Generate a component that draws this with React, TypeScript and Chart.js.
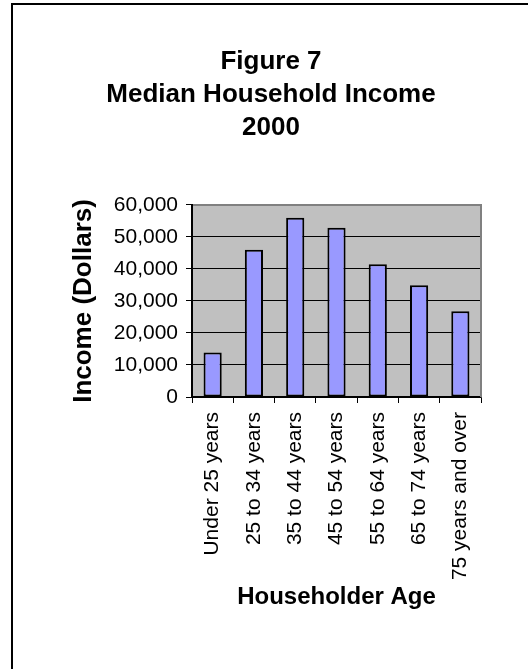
import React, { useEffect, useRef } from "react";
import { Chart, registerables } from "chart.js";

Chart.register(...registerables);

const titleLines = ["Figure 7", "Median Household Income", "2000"];
const categories = [
  "Under 25 years",
  "25 to 34 years",
  "35 to 44 years",
  "45 to 54 years",
  "55 to 64 years",
  "65 to 74 years",
  "75 years and over",
];
const incomes = [13900, 46000, 56000, 52900, 41500, 34900, 26800];
const yTicks = [0, 10000, 20000, 30000, 40000, 50000, 60000];
const yAxisTitle = "Income (Dollars)";
const xAxisTitle = "Householder Age";

const FONT = "'Liberation Sans', Arial, Helvetica, sans-serif";

const plotFrame = {
  id: "plotFrame",
  beforeDraw(chart: any) {
    const { ctx, chartArea, width, height } = chart;
    const { left, top, right, bottom } = chartArea;
    ctx.save();
    ctx.fillStyle = "#fff";
    ctx.fillRect(0, 0, width, height);
    // outer chart frame (only left and top edges are visible in the crop)
    ctx.strokeStyle = "#000";
    ctx.lineWidth = 2;
    ctx.beginPath();
    ctx.moveTo(12, height + 2);
    ctx.lineTo(12, 4);
    ctx.lineTo(width + 2, 4);
    ctx.stroke();
    // plot area background
    ctx.fillStyle = "#C0C0C0";
    ctx.fillRect(left, top, right - left, bottom - top);
    ctx.restore();
  },
  beforeDatasetsDraw(chart: any) {
    const { ctx, chartArea } = chart;
    const { left, top, right, bottom } = chartArea;
    ctx.save();
    ctx.strokeStyle = "#808080";
    ctx.lineWidth = 2;
    ctx.beginPath();
    ctx.moveTo(left + 1, top);
    ctx.lineTo(right, top);
    ctx.lineTo(right, bottom);
    ctx.stroke();
    ctx.restore();
  },
};

export default function App() {
  const canvasRef = useRef<HTMLCanvasElement | null>(null);

  useEffect(() => {
    const canvas = canvasRef.current;
    if (!canvas) return;
    const chart = new Chart(canvas, {
      type: "bar",
      data: {
        labels: categories,
        datasets: [
          {
            data: incomes,
            backgroundColor: "#9999FF",
            borderColor: "#000000",
            borderWidth: 2,
            borderSkipped: false,
            categoryPercentage: 1,
            barPercentage: 0.44,
          },
        ],
      },
      options: {
        responsive: false,
        animation: false,
        events: [],
        layout: { padding: { left: 61, right: 47, top: 0, bottom: 0 } },
        plugins: {
          legend: { display: false },
          tooltip: { enabled: false },
          title: {
            display: true,
            text: titleLines,
            color: "#000",
            font: { family: FONT, size: 26, weight: "bold", lineHeight: 1.28 },
            padding: { top: 44.75, bottom: 60.35 },
          },
        },
        scales: {
          x: {
            offset: true,
            grid: {
              display: true,
              drawOnChartArea: false,
              drawTicks: true,
              tickLength: 6,
              tickColor: "#000",
              offset: true,
              lineWidth: 1,
            },
            border: { display: true, color: "#000", width: 1.5 },
            ticks: {
              color: "#000",
              font: { family: FONT, size: 21 },
              minRotation: 90,
              maxRotation: 90,
              padding: 9,
              autoSkip: false,
            },
            title: {
              display: true,
              text: xAxisTitle,
              color: "#000",
              font: { family: FONT, size: 24, weight: "bold", lineHeight: 1.2 },
              padding: { top: 0, bottom: 57.3 },
            },
            afterFit: (s: any) => {
              s.height = 272;
            },
          },
          y: {
            min: 0,
            max: 60000,
            afterBuildTicks: (s: any) => {
              s.ticks = yTicks.map((v) => ({ value: v }));
            },
            grid: {
              color: (c: any) =>
                c.tick && c.tick.value === 60000 ? "rgba(0,0,0,0)" : "#000",
              tickColor: "#000",
              tickLength: 6,
              lineWidth: 1,
            },
            border: { display: true, color: "#000", width: 2 },
            ticks: {
              color: "#000",
              font: { family: FONT, size: 21 },
              padding: 8,
              callback: (v: any) => Number(v).toLocaleString("en-US"),
            },
            title: {
              display: true,
              text: yAxisTitle,
              color: "#000",
              font: { family: FONT, size: 26, weight: "bold", lineHeight: 1.2 },
              padding: { top: 6.9, bottom: 0 },
            },
            afterFit: (s: any) => {
              s.width = 131;
            },
          },
        },
      },
      plugins: [plotFrame],
    } as any);
    return () => chart.destroy();
  }, []);

  return (
    <div
      style={{
        position: "fixed",
        left: 0,
        top: 0,
        width: 528,
        height: 669,
        background: "#fff",
      }}
    >
      <canvas
        ref={canvasRef}
        width={528}
        height={669}
        style={{ display: "block", width: 528, height: 669 }}
      />
    </div>
  );
}
